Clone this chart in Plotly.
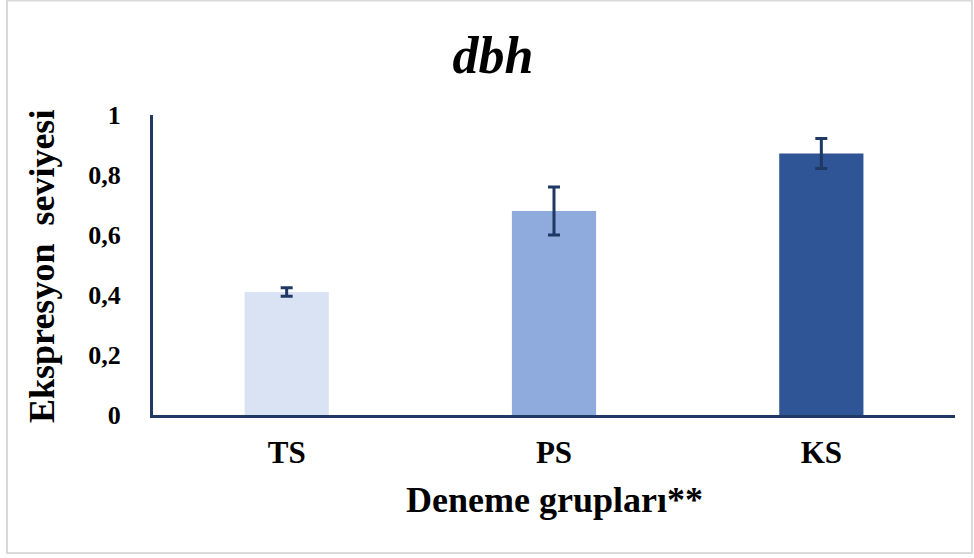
import plotly.graph_objects as go

# Expression data for dbh across the three trial groups
groups = ["TS", "PS", "KS"]
expression = [0.41, 0.68, 0.872]
errors = [0.014, 0.08, 0.05]
bar_colors = ["#dae3f3", "#8faadc", "#2f5597"]
y_ticks = [0, 0.2, 0.4, 0.6, 0.8, 1]
y_tick_text = ["0", "0,2", "0,4", "0,6", "0,8", "1"]

navy = "#1f3864"
serif = "Liberation Serif, Times New Roman, serif"

fig = go.Figure(
    go.Bar(
        x=groups,
        y=expression,
        marker=dict(color=bar_colors, line=dict(width=0)),
        error_y=dict(type="data", array=errors, visible=True,
                     color=navy, thickness=3, width=6),
        width=0.315,
    )
)

W, H = 974, 558
L, R, T, B = 153, 19, 115, 143
pw = W - L - R
ph = H - T - B


def px_x(p):
    return (p - L) / pw


def px_y(p):
    return (H - B - p) / ph


fig.update_layout(
    width=W, height=H,
    margin=dict(l=L, r=R, t=T, b=B, pad=0),
    paper_bgcolor="white", plot_bgcolor="white",
    showlegend=False,
    font=dict(family=serif, color="black"),
    title=dict(text="<b><i>dbh</i></b>", x=493 / W, xanchor="center",
               y=1 - 55 / H, yanchor="middle",
               font=dict(size=52, family=serif, color="black")),
    xaxis=dict(showline=True, linecolor=navy, linewidth=3, ticks="",
               showgrid=False, zeroline=False,
               tickfont=dict(size=31, family=serif, color="black", weight="bold"),
               ticklabelstandoff=8),
    yaxis=dict(range=[0, 1], showline=True, linecolor=navy, linewidth=3,
               ticks="", showgrid=False, zeroline=False,
               tickvals=y_ticks, ticktext=y_tick_text,
               tickfont=dict(size=26, family=serif, color="black", weight="bold"),
               ticklabelstandoff=24),
    annotations=[
        dict(text="<b>Deneme grupları**</b>", xref="paper", yref="paper",
             x=px_x(554), y=px_y(500), xanchor="center", yanchor="middle",
             showarrow=False, font=dict(size=36, family=serif, color="black")),
        dict(text="<b>Ekspresyon  seviyesi</b>", xref="paper", yref="paper",
             x=px_x(42), y=px_y(266), xanchor="center", yanchor="middle",
             textangle=-90, showarrow=False,
             font=dict(size=36, family=serif, color="black")),
    ],
    shapes=[
        dict(type="rect", xref="paper", yref="paper",
             x0=px_x(7), x1=px_x(972), y0=px_y(553), y1=px_y(0.5),
             line=dict(color="#d9d9d9", width=2), layer="below"),
    ],
)

fig.write_html("out.html")
